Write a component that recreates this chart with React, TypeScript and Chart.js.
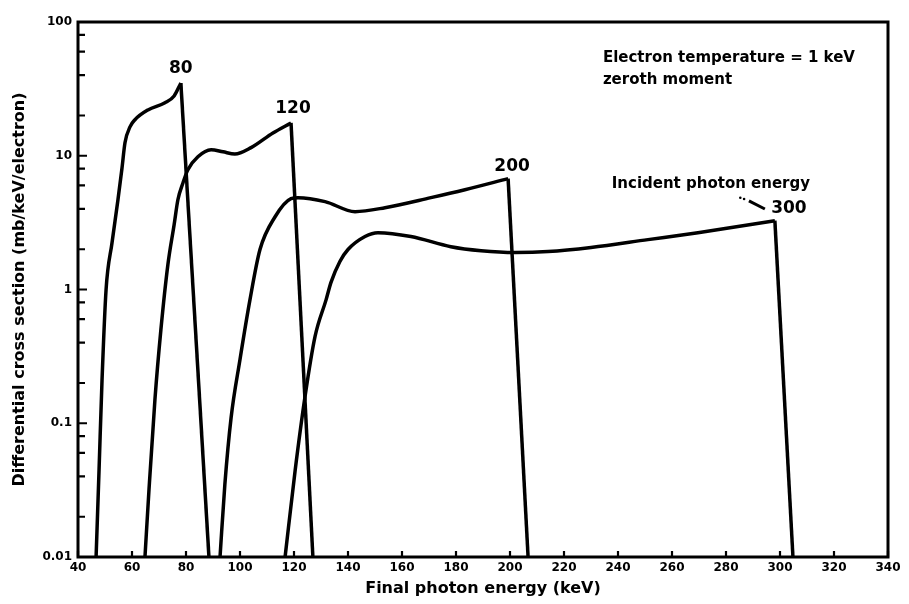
import React, { useEffect, useRef } from "react";
import { Chart, registerables } from "chart.js";

Chart.register(...registerables);

// Axis ticks
const X_TICKS = [40, 60, 80, 100, 120, 140, 160, 180, 200, 220, 240, 260, 280, 300, 320, 340];
const Y_MAJOR = [0.01, 0.1, 1, 10, 100];
const Y_MINOR = [
  0.02, 0.04, 0.06, 0.08,
  0.2, 0.4, 0.6, 0.8,
  2, 4, 6, 8,
  20, 40, 60, 80,
];

// Incident photon energy 80 keV (rise + plateau up to the peak, then the cut-off end point)
const E80_X = [46.7, 47.8, 48.9, 50.4, 52.6, 54.8, 56.3, 57.4, 59.3, 61.1, 65.9, 72.2, 75.6, 78.1];
const E80_Y = [0.01, 0.045, 0.21, 1.0, 2.24, 4.69, 8.1, 12.5, 16.5, 18.6, 22, 24.9, 28, 35];
const E80_END = [88.5, 0.01];

// Incident photon energy 120 keV
const E120_X = [64.8, 66.3, 68.5, 70.7, 73.3, 75.6, 77.0, 78.9, 80.7, 84.4, 89.3, 93.7, 98.1, 104.1, 112.2, 118.9];
const E120_Y = [0.01, 0.032, 0.151, 0.5, 1.54, 3.05, 4.69, 6.29, 7.87, 9.83, 11.1, 10.7, 10.3, 11.5, 14.8, 17.6];
const E120_END = [127.0, 0.01];

// Incident photon energy 200 keV
const E200_X = [92.6, 94.4, 96.7, 100.0, 103.7, 107.4, 113.0, 118.9, 121.5, 131.5, 142.6, 153.7, 170.7, 183.3, 199.3];
const E200_Y = [0.01, 0.035, 0.11, 0.3, 0.84, 1.99, 3.5, 4.78, 4.86, 4.54, 3.82, 4.09, 4.86, 5.57, 6.74];
const E200_END = [206.7, 0.01];

// Incident photon energy 300 keV
const E300_X = [116.7, 120.4, 124.1, 127.8, 131.9, 133.7, 137.0, 140.0, 146.3, 151.1, 163.3, 178.1, 189.3, 201.9, 214.1, 230.0, 251.1, 269.6, 298.1];
const E300_Y = [0.01, 0.044, 0.159, 0.446, 0.84, 1.13, 1.62, 1.99, 2.49, 2.66, 2.49, 2.09, 1.95, 1.89, 1.92, 2.06, 2.36, 2.66, 3.27];
const E300_END = [304.8, 0.01];

const SERIES_LABELS = ["80", "120", "200", "300"];
const SERIES_X = [E80_X, E120_X, E200_X, E300_X];
const SERIES_Y = [E80_Y, E120_Y, E200_Y, E300_Y];
const SERIES_END = [E80_END, E120_END, E200_END, E300_END];

const NOTE_1 = "Electron temperature = 1 keV";
const NOTE_2 = "zeroth moment";
const NOTE_3 = "Incident photon energy";
const X_TITLE = "Final photon energy (keV)";
const Y_TITLE = "Differential cross section (mb/keV/electron)";

const FONT = "'DejaVu Sans', sans-serif";

const overlay = {
  id: "overlay",
  afterDatasetsDraw(chart: any) {
    const { ctx, chartArea: a, scales } = chart;
    const xs = scales.x;
    const ys = scales.y;
    ctx.save();
    ctx.strokeStyle = "#000";
    ctx.fillStyle = "#000";
    ctx.lineCap = "butt";
    // frame
    ctx.lineWidth = 3;
    ctx.strokeRect(a.left, a.top, a.right - a.left, a.bottom - a.top);
    // inward ticks
    ctx.lineWidth = 2.2;
    ctx.beginPath();
    for (const v of Y_MAJOR) {
      const py = ys.getPixelForValue(v);
      ctx.moveTo(a.left, py);
      ctx.lineTo(a.left + 9, py);
    }
    for (const v of Y_MINOR) {
      const py = ys.getPixelForValue(v);
      ctx.moveTo(a.left, py);
      ctx.lineTo(a.left + 7, py);
    }
    for (const v of X_TICKS) {
      const px = xs.getPixelForValue(v);
      ctx.moveTo(px, a.bottom);
      ctx.lineTo(px, a.bottom - 6);
    }
    ctx.stroke();

    // peak labels (placed above the last, highest point of each curve)
    const dx = [0, 2, 4, 14];
    const dy = [6, 6, 4, 4];
    ctx.font = `bold 17px ${FONT}`;
    ctx.textAlign = "center";
    ctx.textBaseline = "bottom";
    SERIES_Y.forEach((yv, i) => {
      const k = yv.length - 1;
      const px = xs.getPixelForValue(SERIES_X[i][k]);
      const py = ys.getPixelForValue(yv[k]);
      ctx.fillText(SERIES_LABELS[i], px + dx[i], py - dy[i]);
    });

    // notes
    ctx.font = `bold 15px ${FONT}`;
    ctx.textAlign = "left";
    ctx.textBaseline = "middle";
    ctx.fillText(NOTE_1, xs.getPixelForValue(234.4), ys.getPixelForValue(54));
    ctx.fillText(NOTE_2, xs.getPixelForValue(234.4), ys.getPixelForValue(37));
    ctx.textAlign = "center";
    ctx.fillText(NOTE_3, xs.getPixelForValue(274.4), ys.getPixelForValue(6.1));

    // little arrow toward "300"
    const ax0 = xs.getPixelForValue(288.5);
    const ay0 = ys.getPixelForValue(4.6);
    const ax1 = xs.getPixelForValue(294.4);
    const ay1 = ys.getPixelForValue(4.0);
    ctx.lineWidth = 3;
    ctx.beginPath();
    ctx.moveTo(ax0, ay0);
    ctx.lineTo(ax1, ay1);
    ctx.stroke();
    ctx.beginPath();
    ctx.arc(xs.getPixelForValue(285.3), ys.getPixelForValue(4.85), 1.3, 0, Math.PI * 2);
    ctx.arc(xs.getPixelForValue(286.7), ys.getPixelForValue(4.75), 1.3, 0, Math.PI * 2);
    ctx.fill();
    ctx.restore();
  },
};

export default function App() {
  const ref = useRef<HTMLCanvasElement | null>(null);

  useEffect(() => {
    if (!ref.current) return;
    const tickFont = { family: FONT, size: 12, weight: "bold" as const };
    const bodies = SERIES_LABELS.map((label, i) => ({
      label,
      data: SERIES_X[i].map((xv, j) => ({ x: xv, y: SERIES_Y[i][j] })),
      borderColor: "#000",
      borderWidth: 3.5,
      pointRadius: 0,
      fill: false,
      borderJoinStyle: "round" as const,
      cubicInterpolationMode: "monotone" as const,
    }));
    const drops = SERIES_LABELS.map((label, i) => {
      const k = SERIES_X[i].length - 1;
      return {
        label: label + " cut-off",
        data: [
          { x: SERIES_X[i][k], y: SERIES_Y[i][k] },
          { x: SERIES_END[i][0], y: SERIES_END[i][1] },
        ],
        borderColor: "#000",
        borderWidth: 3.5,
        pointRadius: 0,
        fill: false,
        tension: 0,
      };
    });
    const chart = new Chart(ref.current, {
      type: "line",
      data: { datasets: [...bodies, ...drops] },
      options: {
        animation: false,
        responsive: false,
        maintainAspectRatio: false,
        layout: { padding: { top: 22, right: 21, left: 0, bottom: 0 } },
        plugins: { legend: { display: false }, tooltip: { enabled: false } },
        scales: {
          x: {
            type: "linear",
            min: 40,
            max: 340,
            afterBuildTicks: (s: any) => {
              s.ticks = X_TICKS.map((v) => ({ value: v }));
            },
            afterFit: (s: any) => {
              s.height = 47;
            },
            ticks: {
              font: tickFont,
              color: "#000",
              padding: 4,
              maxRotation: 0,
              autoSkip: false,
              callback: (v: any) => String(v),
            },
            grid: { display: false, drawTicks: false },
            border: { display: false },
            title: {
              display: true,
              text: X_TITLE,
              color: "#000",
              font: { family: FONT, size: 16, weight: "bold" },
              padding: { top: 0, bottom: 6 },
            },
          },
          y: {
            type: "logarithmic",
            min: 0.01,
            max: 100,
            afterBuildTicks: (s: any) => {
              s.ticks = Y_MAJOR.map((v) => ({ value: v }));
            },
            afterFit: (s: any) => {
              s.width = 78;
            },
            ticks: {
              font: tickFont,
              color: "#000",
              padding: 6,
              autoSkip: false,
              callback: (v: any) => String(v),
            },
            grid: { display: false, drawTicks: false },
            border: { display: false },
            title: {
              display: true,
              text: Y_TITLE,
              color: "#000",
              font: { family: FONT, size: 16, weight: "bold" },
              padding: { top: 10, bottom: 4 },
            },
          },
        },
      },
      plugins: [overlay],
    });
    return () => chart.destroy();
  }, []);

  return (
    <div style={{ position: "fixed", left: 0, top: 0, width: 909, height: 604, background: "#fff" }}>
      <canvas ref={ref} width={909} height={604} style={{ width: 909, height: 604 }} />
    </div>
  );
}
